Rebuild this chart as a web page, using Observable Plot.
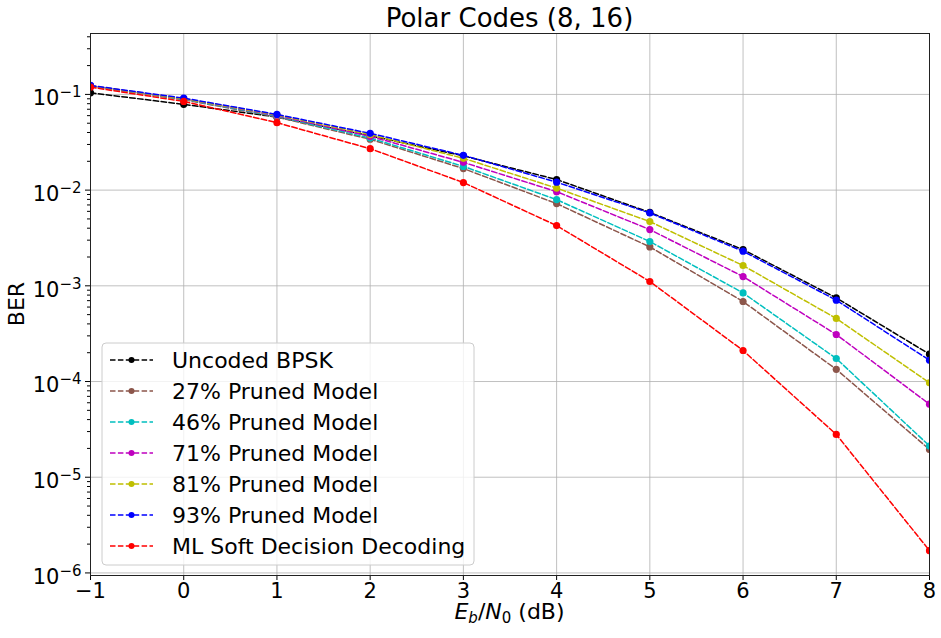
<!DOCTYPE html>
<html><head><meta charset="utf-8">
<script src="https://cdn.jsdelivr.net/npm/d3@7"></script>
<script src="https://cdn.jsdelivr.net/npm/@observablehq/plot@0.6"></script>
<style>body{margin:0;background:#fff;} svg{font-family:"DejaVu Sans";}</style>
</head><body><div id="chart"></div>
<script>
const snr = [-1, 0, 1, 2, 3, 4, 5, 6, 7, 8];
const berUncoded = [0.104, 0.0787, 0.058, 0.037, 0.0228, 0.0129, 0.00585, 0.00239, 0.000748, 0.000193];
const ber27 = [0.122, 0.088, 0.058, 0.034, 0.0168, 0.00723, 0.00255, 0.000686, 0.000134, 1.95e-5];
const ber46 = [0.122, 0.089, 0.059, 0.035, 0.0177, 0.00796, 0.0029, 0.000843, 0.000174, 2.12e-5];
const ber71 = [0.123, 0.090, 0.060, 0.0365, 0.0195, 0.00964, 0.00387, 0.00125, 0.00031, 5.8e-5];
const ber81 = [0.123, 0.090, 0.061, 0.038, 0.0215, 0.0105, 0.00469, 0.00163, 0.000456, 9.7e-5];
const ber93 = [0.124, 0.0915, 0.0618, 0.0392, 0.0231, 0.0121, 0.00577, 0.0023, 0.000708, 0.000167];
const berML = [0.119, 0.0845, 0.0507, 0.0271, 0.0120, 0.00426, 0.00111, 0.000211, 2.8e-5, 1.71e-6];

const seriesNames = ["Uncoded BPSK", "27% Pruned Model", "46% Pruned Model", "71% Pruned Model", "81% Pruned Model", "93% Pruned Model", "ML Soft Decision Decoding"];
const seriesColors = ["#000000", "#8c564b", "#00bfbf", "#bf00bf", "#bfbf00", "#0000ff", "#ff0000"];
const seriesValues = [berUncoded, ber27, ber46, ber71, ber81, ber93, berML];

const xTicks = [-1, 0, 1, 2, 3, 4, 5, 6, 7, 8];
const yTicks = [1e-6, 1e-5, 1e-4, 1e-3, 1e-2, 1e-1];
const yMinor = [];
for (let e = -7; e < 0; e++) for (let m = 2; m <= 9; m++) { const v = m * Math.pow(10, e); if (v > 9.4e-7 && v < 0.433) yMinor.push(v); }

const expOf = d => Math.round(Math.log10(d));

const seriesMarks = seriesNames.flatMap((name, i) => {
  const rows = snr.map((x, j) => ({x, y: seriesValues[i][j], series: name}));
  return [
    Plot.line(rows, {x: "x", y: "y", stroke: seriesColors[i], strokeWidth: 1.5, strokeDasharray: "5.5,2.4", clip: true}),
    Plot.dot(rows, {x: "x", y: "y", fill: seriesColors[i], r: 3.6, clip: true})
  ];
});

const chart = Plot.plot({
  width: 941, height: 638,
  marginLeft: 90, marginRight: 12, marginTop: 33, marginBottom: 63,
  style: {fontFamily: "DejaVu Sans", background: "white", color: "black", overflow: "visible"},
  x: {domain: [-1, 8]},
  y: {type: "log", domain: [9.4e-7, 0.433]},
  marks: [
    Plot.gridX(xTicks, {stroke: "#b0b0b0", strokeOpacity: 1, strokeWidth: 0.8}),
    Plot.gridY(yTicks, {stroke: "#b0b0b0", strokeOpacity: 1, strokeWidth: 0.8}),
    Plot.axisX(xTicks, {fontSize: 21, tickSize: 5, tickPadding: 3, label: null, tickFormat: d => d < 0 ? "\u2212" + Math.abs(d) : String(d)}),
    Plot.axisY(yTicks, {fontSize: 21, tickSize: 5, tickPadding: 4, label: null, tickFormat: d => "10^" + expOf(d)}),
    Plot.axisY(yMinor, {tickSize: 3, tickFormat: () => "", label: null}),
    ...seriesMarks,
    Plot.frame({stroke: "#222", strokeWidth: 1})
  ]
});
document.getElementById("chart").appendChild(chart);

const svg = d3.select(chart);

// rebuild y tick labels as 10 with a real superscript exponent
svg.selectAll("text").each(function() {
  const t = this.textContent;
  if (/^10\^-?\d+$/.test(t)) {
    const e = t.split("^")[1].replace("-", "\u2212");
    const el = d3.select(this);
    el.text("");
    el.append("tspan").attr("dy", 4).text("10");
    el.append("tspan").attr("font-size", 15).attr("dy", -8).text(e);
  }
});

svg.append("text").attr("x", 509.5).attr("y", 27).attr("text-anchor", "middle")
  .attr("font-size", 26).attr("fill", "black").text("Polar Codes (8, 16)");

svg.append("text").attr("transform", "translate(24,304) rotate(-90)")
  .attr("text-anchor", "middle").attr("font-size", 22).attr("fill", "black").text("BER");

const xl = svg.append("text").attr("x", 509.5).attr("y", 619).attr("text-anchor", "middle")
  .attr("font-size", 22).attr("fill", "black");
xl.append("tspan").attr("font-style", "italic").text("E");
xl.append("tspan").attr("font-style", "italic").attr("font-size", 15).attr("dy", 4).text("b");
xl.append("tspan").attr("dy", -4).text("/");
xl.append("tspan").attr("font-style", "italic").text("N");
xl.append("tspan").attr("font-size", 15).attr("dy", 4).text("0");
xl.append("tspan").attr("dy", -4).text("\u00a0(dB)");

const lg = svg.append("g").attr("text-anchor", "start");
lg.append("rect").attr("x", 102).attr("y", 343).attr("width", 372).attr("height", 222).attr("rx", 4)
  .attr("fill", "white").attr("fill-opacity", 0.8).attr("stroke", "#cccccc").attr("stroke-width", 1);
seriesNames.forEach((name, i) => {
  const cy = 360 + i * 31;
  lg.append("line").attr("x1", 110).attr("x2", 153).attr("y1", cy).attr("y2", cy)
    .attr("stroke", seriesColors[i]).attr("stroke-width", 1.5).attr("stroke-dasharray", "5.5,2.4");
  lg.append("circle").attr("cx", 131.5).attr("cy", cy).attr("r", 3).attr("fill", seriesColors[i]);
  lg.append("text").attr("x", 172).attr("y", cy).attr("dy", "0.36em").attr("font-size", 22)
    .attr("text-anchor", "start").attr("fill", "black").text(name);
});
</script>
</body></html>
